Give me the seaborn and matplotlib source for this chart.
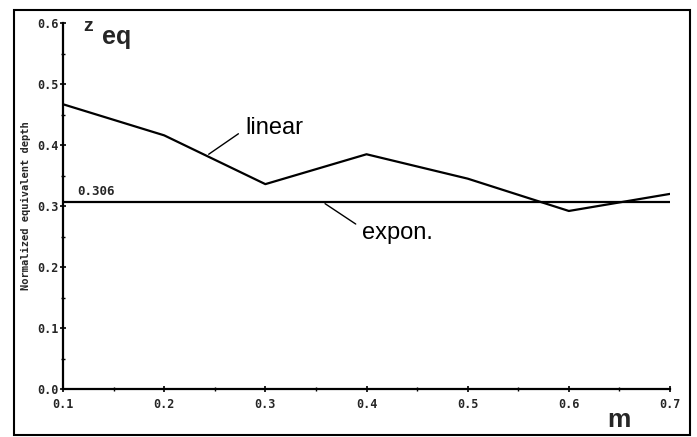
import matplotlib
matplotlib.use("Agg")
import matplotlib.pyplot as plt
import seaborn as sns
import pandas as pd
from matplotlib.patches import Rectangle
from matplotlib.ticker import MultipleLocator

# Normalized equivalent depth versus m
m_values = [0.1, 0.2, 0.3, 0.4, 0.5, 0.6, 0.7]
linear_depth = [0.467, 0.416, 0.336, 0.385, 0.345, 0.292, 0.320]
expon_m = [0.1, 0.7]
expon_depth = [0.306, 0.306]
x_ticks = [0.1, 0.2, 0.3, 0.4, 0.5, 0.6, 0.7]
y_ticks = [0.0, 0.1, 0.2, 0.3, 0.4, 0.5, 0.6]

sns.set_theme(style="white")
plt.rcParams["font.family"] = ["Liberation Sans", "DejaVu Sans"]

fig = plt.figure(figsize=(6.97, 4.37), dpi=100)
ax = fig.add_axes([0.0904, 0.1098, 0.8709, 0.8372])

df_lin = pd.DataFrame({"m": m_values, "z": linear_depth})
df_exp = pd.DataFrame({"m": expon_m, "z": expon_depth})
sns.lineplot(data=df_lin, x="m", y="z", ax=ax, color="black", lw=1.6)
sns.lineplot(data=df_exp, x="m", y="z", ax=ax, color="black", lw=1.6)

ax.set_xlim(0.1, 0.7)
ax.set_ylim(0.0, 0.6)
ax.set_xticks(x_ticks)
ax.set_yticks(y_ticks)
ax.set_xticklabels([f"{v:.1f}" for v in x_ticks])
ax.set_yticklabels([f"{v:.1f}" for v in y_ticks])
ax.xaxis.set_minor_locator(MultipleLocator(0.05))
ax.yaxis.set_minor_locator(MultipleLocator(0.05))
ax.tick_params(which="major", direction="inout", length=5, width=1.2,
               color="black", left=True, bottom=True)
ax.tick_params(axis="x", which="major", pad=4)
ax.tick_params(axis="y", which="major", pad=1)
ax.tick_params(which="minor", direction="inout", length=3, width=1,
               color="black", left=True, bottom=True)
for lab in ax.get_xticklabels() + ax.get_yticklabels():
    lab.set_fontfamily("DejaVu Sans Mono")
    lab.set_fontweight("bold")
    lab.set_fontsize(8.5)
ax.set_xlabel("")
ax.set_ylabel("Normalized equivalent depth", fontfamily="DejaVu Sans Mono",
              fontweight="bold", fontsize=7.5, labelpad=4)

for side in ("top", "right"):
    ax.spines[side].set_visible(False)
for side in ("left", "bottom"):
    ax.spines[side].set_color("black")
    ax.spines[side].set_linewidth(1.6)
ax.grid(False)

# Curve labels with leader lines
ax.annotate("linear", xy=(0.244, 0.385), xytext=(0.280, 0.428),
            fontsize=17, fontweight="medium", color="black",
            va="center", ha="left",
            arrowprops=dict(arrowstyle="-", color="black", lw=1,
                            shrinkA=3, shrinkB=0, relpos=(0, 0.45)))
ax.annotate("expon.", xy=(0.359, 0.304), xytext=(0.396, 0.256),
            fontsize=17, fontweight="medium", color="black",
            va="center", ha="left",
            arrowprops=dict(arrowstyle="-", color="black", lw=1,
                            shrinkA=3, shrinkB=0, relpos=(0, 0.7)))
ax.text(0.114, 0.313, "0.306", fontfamily="DejaVu Sans Mono",
        fontweight="bold", fontsize=9, va="bottom", ha="left")

# Axis symbols
ax.text(0.120, 0.595, "z", fontsize=14, fontweight="bold", va="center", ha="left")
ax.text(0.139, 0.578, "eq", fontsize=18, fontweight="bold", va="center", ha="left")
fig.text(619 / 697, 1 - 420 / 437, "m", fontsize=19, fontweight="bold",
         va="center", ha="center")

# Outer frame
fig.patches.append(Rectangle((14 / 697, 2 / 437), 676 / 697, 425 / 437,
                             transform=fig.transFigure, fill=False,
                             edgecolor="black", lw=1.5))

fig.savefig("out.png", dpi=100)
